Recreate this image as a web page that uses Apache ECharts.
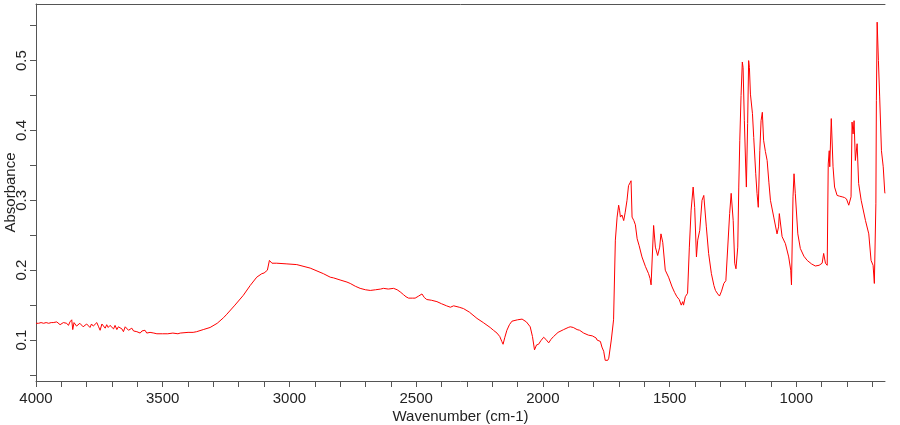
<!DOCTYPE html>
<html>
<head>
<meta charset="utf-8">
<script src="https://cdn.jsdelivr.net/npm/echarts@6/dist/echarts.min.js"></script>
<style>
html,body{margin:0;padding:0;background:#fff;}
#chart{width:900px;height:425px;}
</style>
</head>
<body>
<div id="chart"></div>
<script>
// Wavenumbers (cm-1), descending
const wavenumbers = [
4000,3990,3980,3970,3960,3950,3940,3932,3925,3918,3912,3905,3899,3892,3885,3879,3872,3866,3859,3855,
3850,3846,3840,3833,3827,3820,3814,3807,3800,3794,3787,3781,3774,3767,3760,3753,3747,3740,3734,3727,
3721,3715,3708,3701,3694,3688,3681,3675,3668,3661,3655,3648,3642,3635,3629,3622,3615,3609,3602,3596,
3589,3582,3576,3570,3563,3550,3535,3523,3500,3480,3460,3440,3431,3400,3380,3366,3340,3313,3285,3260,
3247,3215,3182,3155,3129,3109,3100,3087,3082,3079,3075,3069,3050,3010,2971,2918,2866,2839,2826,2800,
2773,2760,2740,2721,2700,2681,2660,2640,2629,2610,2589,2575,2563,2550,2540,2530,2515,2504,2490,2477,
2468,2458,2440,2418,2400,2380,2365,2359,2352,2346,2330,2313,2290,2260,2235,2208,2195,2181,2170,2162,
2157,2150,2142,2132,2122,2100,2082,2065,2050,2041,2033,2025,2017,2008,1997,1988,1977,1968,1958,1940,
1918,1900,1892,1880,1865,1855,1839,1820,1805,1800,1790,1786,1780,1773,1767,1760,1754,1750,1744,1740,
1730,1721,1714,1707,1701,1697,1694,1688,1681,1675,1668,1662,1656,1652,1648,1641,1635,1628,1620,1609,
1595,1583,1577,1573,1563,1556,1547,1539,1534,1527,1517,1504,1490,1480,1471,1462,1454,1448,1445,1438,
1429,1422,1415,1407,1401,1394,1389,1381,1372,1365,1355,1346,1335,1325,1319,1310,1303,1295,1286,1278,
1271,1263,1257,1249,1243,1238,1231,1227,1223,1218,1213,1210,1205,1200,1197,1192,1188,1185,1181,1173,
1168,1160,1155,1150,1144,1139,1134,1129,1122,1115,1108,1102,1089,1076,1070,1067,1063,1056,1043,1030,
1022,1019,1013,1009,1004,994,984,970,957,940,925,910,898,892,885,878,874,870,868,862,
855,849,839,830,819,810,802,793,784,780,776,772,767,760,754,744,727,714,705,697,
692,686,684,681,676,671,664,657,651,650
];
// Absorbance values matching the wavenumbers above
const absorbance = [
0.124,0.124,0.125,0.124,0.125,0.124,0.125,0.125,0.123,0.126,0.124,0.122,0.121,0.125,0.123,0.124,0.121,0.126,0.129,0.115,
0.125,0.126,0.120,0.118,0.124,0.125,0.119,0.117,0.123,0.121,0.118,0.123,0.120,0.122,0.125,0.119,0.114,0.123,0.121,0.117,
0.122,0.118,0.121,0.120,0.116,0.121,0.115,0.119,0.121,0.116,0.112,0.119,0.118,0.114,0.113,0.117,0.113,0.115,0.112,0.114,
0.110,0.113,0.111,0.114,0.110,0.111,0.110,0.109,0.109,0.109,0.110,0.109,0.110,0.111,0.111,0.112,0.115,0.118,0.124,0.132,
0.137,0.150,0.164,0.178,0.190,0.195,0.196,0.200,0.201,0.214,0.212,0.210,0.210,0.209,0.208,0.203,0.195,0.190,0.189,0.186,
0.183,0.181,0.177,0.174,0.172,0.171,0.172,0.173,0.174,0.173,0.174,0.172,0.169,0.165,0.162,0.160,0.160,0.160,0.163,0.166,
0.161,0.158,0.157,0.155,0.152,0.149,0.147,0.145,0.149,0.149,0.147,0.145,0.140,0.131,0.125,0.118,0.114,0.110,0.105,0.098,
0.094,0.104,0.114,0.122,0.127,0.129,0.130,0.126,0.119,0.105,0.086,0.093,0.094,0.099,0.104,0.101,0.096,0.101,0.105,0.111,
0.115,0.118,0.119,0.118,0.115,0.114,0.110,0.107,0.106,0.105,0.103,0.100,0.102,0.098,0.090,0.084,0.071,0.069,0.071,0.074,
0.100,0.129,0.243,0.276,0.293,0.285,0.276,0.279,0.271,0.283,0.300,0.321,0.325,0.328,0.276,0.271,0.265,0.245,0.235,0.219,
0.205,0.195,0.188,0.179,0.264,0.233,0.221,0.233,0.252,0.240,0.200,0.190,0.176,0.168,0.162,0.158,0.150,0.155,0.150,0.162,
0.167,0.233,0.286,0.319,0.290,0.219,0.243,0.257,0.300,0.307,0.262,0.224,0.195,0.178,0.171,0.166,0.163,0.170,0.181,0.185,
0.186,0.281,0.310,0.271,0.210,0.202,0.233,0.319,0.386,0.450,0.498,0.490,0.414,0.352,0.319,0.410,0.500,0.490,0.452,0.424,
0.390,0.338,0.310,0.290,0.371,0.414,0.426,0.386,0.370,0.357,0.325,0.300,0.276,0.252,0.262,0.281,0.283,0.248,0.238,0.219,
0.200,0.179,0.305,0.338,0.310,0.252,0.231,0.220,0.214,0.209,0.206,0.207,0.210,0.224,0.210,0.207,0.352,0.371,0.348,0.417,
0.348,0.319,0.307,0.306,0.305,0.304,0.302,0.293,0.305,0.412,0.395,0.414,0.357,0.381,0.324,0.300,0.271,0.252,0.214,0.207,
0.181,0.295,0.443,0.555,0.500,0.448,0.371,0.348,0.312,0.310
];
const xTicks = [4000,3900,3800,3700,3600,3500,3400,3300,3200,3100,3000,2900,2800,2700,2600,2500,2400,2300,2200,2100,2000,1900,1800,1700,1600,1500,1400,1300,1200,1100,1000,900,800,700];
const xLabels = [4000,3500,3000,2500,2000,1500,1000];
const yTicks = [0.05,0.1,0.15,0.2,0.25,0.3,0.35,0.4,0.45,0.5,0.55];
const yLabels = [0.1,0.2,0.3,0.4,0.5];

const points = wavenumbers.map((w, i) => [w, absorbance[i]]);
const axisColor = '#555';
const textColor = '#222';
const fontFamily = 'Liberation Sans, Arial, sans-serif';

const chart = echarts.init(document.getElementById('chart'), null, {renderer: 'canvas'});
chart.setOption({
  animation: false,
  backgroundColor: '#fff',
  grid: {left: 36, right: 15, top: 4, bottom: 44, containLabel: false, outerBoundsMode: 'none'},
  xAxis: [{
    type: 'value', inverse: true, min: 650, max: 4000,
    name: 'Wavenumber (cm-1)', nameLocation: 'middle', nameGap: 28, nameMoveOverlap: false,
    nameTextStyle: {color: textColor, fontSize: 15, fontFamily: fontFamily},
    axisLine: {show: true, lineStyle: {color: axisColor, width: 1}},
    axisTick: {show: true, customValues: xTicks, length: 6, lineStyle: {color: axisColor}},
    axisLabel: {customValues: xLabels, color: textColor, fontSize: 15, fontFamily: fontFamily, margin: 10,
      formatter: v => String(v)},
    splitLine: {show: false}
  }, {
    type: 'value', position: 'top', inverse: true, min: 650, max: 4000,
    axisLine: {show: true, lineStyle: {color: axisColor, width: 1}},
    axisTick: {show: false}, axisLabel: {show: false}, splitLine: {show: false}
  }],
  yAxis: {
    type: 'value', min: 0.0414, max: 0.581,
    name: 'Absorbance', nameLocation: 'middle', nameGap: 18, nameMoveOverlap: false,
    nameTextStyle: {color: textColor, fontSize: 15, fontFamily: fontFamily},
    axisLine: {show: true, lineStyle: {color: axisColor, width: 1}},
    axisTick: {show: true, customValues: yTicks, length: 6, lineStyle: {color: axisColor}},
    axisLabel: {customValues: yLabels, rotate: 90, color: textColor, fontSize: 15, fontFamily: fontFamily, margin: 7,
      formatter: v => String(Math.round(v * 10) / 10)},
    splitLine: {show: false}
  },
  series: [{
    type: 'line', data: points, showSymbol: false, symbol: 'none',
    lineStyle: {color: '#ff0000', width: 1}, xAxisIndex: 0
  }]
});
</script>
</body>
</html>
